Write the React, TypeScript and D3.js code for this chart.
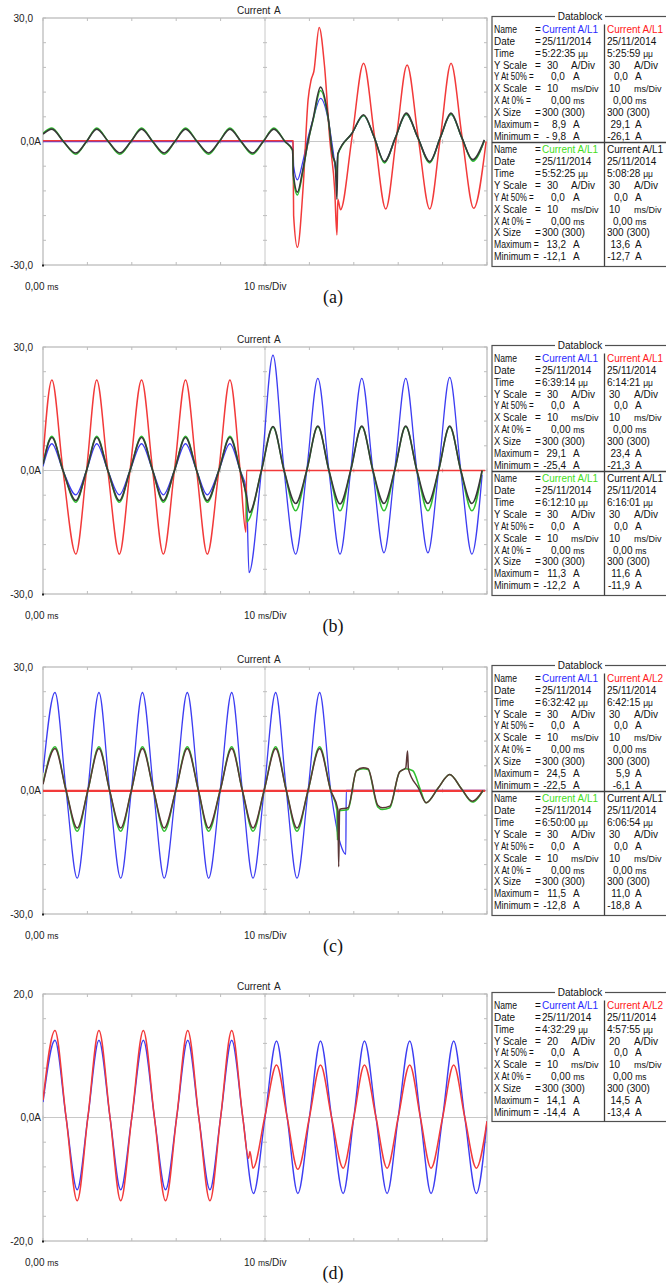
import React from 'react';
import * as d3 from 'd3';

type Pt = [number, number];

// ---------------- data (time in ms, current in A) ----------------
const X_DIVS = [0, 10, 20, 30, 40, 50, 60, 70, 80, 90, 100];
const X_LABELS = ['0,00', '10'];
const TITLE = 'Current';
const CAPTIONS = ['(a)', '(b)', '(c)', '(d)'];
const Y_LABELS_30 = ['30,0', '0,0A', '-30,0'];
const Y_LABELS_20 = ['20,0', '0,0A', '-20,0'];

// Panel (a)
const A_BLUE: Pt[] = [[0,0],[56.3,0],[56.45,-6],[57.3,-9.3],[58.5,-5],[59.7,1],[60.8,5.3],[62.5,10.5],[64.2,5.5],[65.3,-2],[66.1,-7.7],[66.4,-3],[69.6,2],[72.2,6.3],[74.6,1],[76.9,-5.0],[79.4,1],[81.8,6.6],[84.4,1],[87.1,-5.0],[89.5,1],[91.9,6.6],[94.3,1],[96.8,-4.6],[99.4,0.2]];
const A_RED: Pt[] = [[0,0.2],[56.3,0.2],[56.45,-18],[57.3,-25.7],[58.6,-10.9],[59.7,10.1],[60.4,15],[61.0,17],[62.2,27.7],[63.4,18.4],[64.6,0.4],[65.7,-11.8],[66.2,-22.7],[66.4,-14],[67.0,-16.6],[69.6,1],[72.2,19.0],[74.7,1],[77.2,-16.4],[79.6,1],[82.0,18.6],[84.5,1],[87.1,-16.4],[89.5,1],[91.9,19.0],[94.4,1],[97.0,-16.2],[99.8,0]];
const A_GREEN: Pt[] = [[0,2.0],[2.0,3.3],[4.6,0],[7.4,-3.1],[9.8,0],[12.1,3.3],[14.7,0],[17.3,-3.1],[19.8,0],[22.2,3.3],[24.7,0],[27.3,-3.1],[29.7,0],[32.1,3.3],[34.7,0],[37.3,-3.1],[39.7,0],[42.1,3.3],[44.6,0],[47.2,-3.1],[49.6,0],[52.0,3.3],[54.5,0],[56.2,-2.2],[56.4,-9],[57.3,-13.0],[58.5,-7.5],[59.7,0],[60.8,5.0],[62.5,12.4],[64.2,5.8],[65.3,-3.6],[65.9,-6],[66.2,-8.5],[66.4,-3.2],[69.6,2],[72.2,6.3],[74.6,1],[76.9,-5.2],[79.4,1],[81.8,6.6],[84.4,1],[87.1,-5.2],[89.5,1],[91.9,6.6],[94.3,1],[96.8,-4.8],[99.4,0.2]];
const A_DARK: Pt[] = [[0,1.8],[2.0,3.0],[4.6,0],[7.4,-2.8],[9.8,0],[12.1,3.0],[14.7,0],[17.3,-2.8],[19.8,0],[22.2,3.0],[24.7,0],[27.3,-2.8],[29.7,0],[32.1,3.0],[34.7,0],[37.3,-2.8],[39.7,0],[42.1,3.0],[44.6,0],[47.2,-2.8],[49.6,0],[52.0,3.0],[54.5,0],[56.2,-2.0],[56.4,-8],[57.3,-12.3],[58.5,-7],[59.7,0],[60.8,5.3],[62.5,13.2],[64.2,6.1],[65.3,-3.6],[65.8,-5.2],[66.2,-14],[66.4,-3],[69.6,2],[72.2,6.5],[74.6,1],[76.9,-4.9],[79.4,1],[81.8,6.9],[84.4,1],[87.1,-4.9],[89.5,1],[91.9,6.9],[94.3,1],[96.8,-4.4],[99.4,0.4]];

// Panel (b)
const B_BLUE: Pt[] = [[0,1],[2.0,6.5],[4.5,0],[7.4,-5.9],[9.8,0],[12.1,6.5],[14.6,0],[17.2,-5.9],[19.6,0],[22.2,6.5],[24.7,0],[27.1,-5.9],[29.6,0],[32.1,6.5],[34.6,0],[37.0,-5.9],[39.6,0],[42.1,6.5],[44.4,0],[45.8,-4.5],[46.4,-24.8],[49.2,0],[51.8,28.0],[54.3,0],[56.9,-20.3],[59.4,0],[61.9,22.4],[64.4,0],[66.9,-20.3],[69.3,0],[71.8,22.4],[74.3,0],[76.8,-20.0],[79.2,0],[81.7,22.4],[84.2,0],[86.7,-20.0],[89.1,0],[91.6,22.6],[94.1,0],[96.6,-20.3],[98.9,-1]];
const B_RED: Pt[] = [[0,3],[2.0,22],[4.5,0],[7.4,-20.3],[9.8,0],[12.1,22],[14.6,0],[17.2,-20.3],[19.6,0],[22.2,22],[24.7,0],[27.1,-20.3],[29.6,0],[32.1,22],[34.6,0],[37.0,-20.3],[39.6,0],[42.1,22],[44.4,0],[45.7,-15],[45.85,0],[99.6,0]];
const B_GREEN: Pt[] = [[0,1.5],[2.0,8.3],[4.5,0],[7.4,-7.7],[9.8,0],[12.1,8.3],[14.6,0],[17.2,-7.7],[19.6,0],[22.2,8.3],[24.7,0],[27.1,-7.7],[29.6,0],[32.1,8.3],[34.6,0],[37.0,-7.7],[39.6,0],[42.1,8.3],[44.4,0],[45.8,-7],[45.9,-12.5],[46.5,-11.7],[49.2,0],[51.8,10.5],[54.3,0],[56.9,-9.8],[59.4,0],[61.9,10.6],[64.4,0],[66.9,-9.8],[69.3,0],[71.8,10.6],[74.3,0],[76.8,-9.8],[79.2,0],[81.7,10.6],[84.2,0],[86.7,-9.8],[89.1,0],[91.6,10.6],[94.1,0],[96.6,-9.8],[98.9,0]];
const B_DARK: Pt[] = [[0,1.5],[2.0,8.0],[4.5,0],[7.4,-7.3],[9.8,0],[12.1,8.0],[14.6,0],[17.2,-7.3],[19.6,0],[22.2,8.0],[24.7,0],[27.1,-7.3],[29.6,0],[32.1,8.0],[34.6,0],[37.0,-7.3],[39.6,0],[42.1,8.0],[44.4,0],[45.8,-6.0],[46.5,-10.2],[49.2,0],[51.8,10.7],[54.3,0],[56.9,-8.0],[59.4,0],[61.9,10.8],[64.4,0],[66.9,-8.1],[69.3,0],[71.8,10.8],[74.3,0],[76.8,-8.0],[79.2,0],[81.7,10.8],[84.2,0],[86.7,-8.0],[89.1,0],[91.6,10.8],[94.1,0],[96.6,-8.0],[98.9,0]];

// Panel (c)
const C_BLUE: Pt[] = [[0,4.3],[2.7,23.8],[5.2,0],[7.7,-21.3],[10.1,0],[12.6,23.8],[15.0,0],[17.5,-21.3],[19.9,0],[22.4,23.8],[24.9,0],[27.3,-21.3],[29.9,0],[32.5,23.8],[35.0,0],[37.3,-21.3],[39.9,0],[42.5,23.8],[44.9,0],[47.3,-21.3],[49.8,0],[52.4,23.8],[54.8,0],[57.2,-21.3],[59.7,0],[62.3,23.8],[64.8,0],[67.0,-13],[68.2,-15.5],[68.3,0],[99.6,0]];
const C_RED: Pt[] = [[0,-0.1],[99.6,-0.1]];
const C_GREEN: Pt[] = [[0,1.7],[2.7,10.6],[5.2,0],[7.7,-9.9],[10.1,0],[12.6,10.6],[15.0,0],[17.5,-9.9],[19.9,0],[22.4,10.6],[24.9,0],[27.3,-9.9],[29.9,0],[32.5,10.6],[35.0,0],[37.3,-9.9],[39.9,0],[42.5,10.6],[44.9,0],[47.3,-9.9],[49.8,0],[52.4,10.6],[54.8,0],[57.2,-9.9],[59.7,0],[62.3,10.6],[64.8,0],[66.2,-4.8],[66.3,-12],[66.6,-5],[68.7,-4.6],[70.6,4.8],[72.1,5.3],[73.2,5.1],[75.4,-4.0],[76.4,-4.6],[78.1,-4.2],[80.3,4.5],[81.7,5.3],[83.3,4.8],[84.9,0.5],[86.3,-3.0],[89.0,0.6],[91.6,3.9],[94.2,0.5],[96.7,-2.8],[99.1,0]];
const C_DARK: Pt[] = [[0,1.5],[2.7,10.2],[5.2,0],[7.7,-9.1],[10.1,0],[12.6,10.2],[15.0,0],[17.5,-9.1],[19.9,0],[22.4,10.2],[24.9,0],[27.3,-9.1],[29.9,0],[32.5,10.2],[35.0,0],[37.3,-9.1],[39.9,0],[42.5,10.2],[44.9,0],[47.3,-9.1],[49.8,0],[52.4,10.2],[54.8,0],[57.2,-9.1],[59.7,0],[62.3,10.2],[64.8,0],[66.4,-4.6],[66.6,-18.5],[66.8,-4.6],[68.7,-4.2],[70.6,4.8],[72.1,5.5],[73.2,5.3],[75.4,-3.6],[76.4,-4.2],[78.1,-3.8],[80.3,4.5],[81.7,5.5],[82.1,9.6],[82.3,5.2],[84.6,0.5],[86.3,-3.0],[89.0,0.6],[91.6,3.9],[94.2,0.5],[96.7,-2.6],[99.1,0]];

// Panel (d)
const D_BLUE: Pt[] = [[0,2.5],[2.7,12.5],[5.2,0],[7.7,-11.7],[10.1,0],[12.6,12.5],[15.1,0],[17.5,-11.7],[20.0,0],[22.6,12.5],[25.1,0],[27.6,-11.7],[30.1,0],[32.6,12.5],[35.1,0],[37.6,-11.7],[40.0,0],[42.5,12.5],[45.0,0],[47.4,-12.3],[50.0,0],[52.6,12.4],[55.0,0],[57.4,-12.3],[60.0,0],[62.5,12.4],[65.0,0],[67.6,-12.3],[70.0,0],[72.4,12.4],[75.0,0],[77.5,-12.3],[80.0,0],[82.6,12.4],[85.0,0],[87.4,-12.3],[90.0,0],[92.5,12.4],[95.0,0],[97.6,-12.3],[100,-0.6]];
const D_RED: Pt[] = [[0,2.8],[2.7,14.1],[5.2,0],[7.7,-13.5],[10.1,0],[12.6,14.1],[15.1,0],[17.5,-13.5],[20.0,0],[22.6,14.1],[25.1,0],[27.6,-13.5],[30.1,0],[32.6,14.1],[35.1,0],[37.6,-13.5],[40.0,0],[42.5,14.1],[45.0,0],[46.3,-6.6],[46.6,-5.5],[47.3,-8.2],[50.0,0.3],[52.6,8.5],[55.0,0],[57.4,-8.4],[60.0,0],[62.5,8.5],[65.0,0],[67.6,-8.2],[70.0,0],[72.4,8.5],[75.0,0],[77.5,-8.2],[80.0,0],[82.6,8.5],[85.0,0],[87.4,-8.2],[90.0,0],[92.5,8.5],[95.0,0],[97.6,-8.2],[100,-0.6]];

// Datablock columns
type Col = { name: string; color: string; time: string; yScale: string; max: string; min: string };
const DATE = '25/11/2014';
const A_COLS: Col[] = [
  { name: 'Current A/L1', color: '#2a2aff', time: '5:22:35', yScale: '30', max: '8,9', min: '- 9,8' },
  { name: 'Current A/L1', color: '#ff2020', time: '5:25:59', yScale: '30', max: '29,1', min: '-26,1' },
  { name: 'Current A/L1', color: '#44dd22', time: '5:52:25', yScale: '30', max: '13,2', min: '-12,1' },
  { name: 'Current A/L1', color: '#111', time: '5:08:28', yScale: '30', max: '13,6', min: '-12,7' },
];
const B_COLS: Col[] = [
  { name: 'Current A/L1', color: '#2a2aff', time: '6:39:14', yScale: '30', max: '29,1', min: '-25,4' },
  { name: 'Current A/L1', color: '#ff2020', time: '6:14:21', yScale: '30', max: '23,4', min: '-21,3' },
  { name: 'Current A/L1', color: '#44dd22', time: '6:12:10', yScale: '30', max: '11,3', min: '-12,2' },
  { name: 'Current A/L1', color: '#111', time: '6:16:01', yScale: '30', max: '11,6', min: '-11,9' },
];
const C_COLS: Col[] = [
  { name: 'Current A/L1', color: '#2a2aff', time: '6:32:42', yScale: '30', max: '24,5', min: '-22,5' },
  { name: 'Current A/L2', color: '#ff2020', time: '6:42:15', yScale: '30', max: '5,9', min: '-6,1' },
  { name: 'Current A/L1', color: '#44dd22', time: '6:50:00', yScale: '30', max: '11,5', min: '-12,8' },
  { name: 'Current A/L1', color: '#111', time: '6:06:54', yScale: '30', max: '11,0', min: '-18,8' },
];
const D_COLS: Col[] = [
  { name: 'Current A/L1', color: '#2a2aff', time: '4:32:29', yScale: '20', max: '14,1', min: '-14,4' },
  { name: 'Current A/L2', color: '#ff2020', time: '4:57:55', yScale: '20', max: '14,5', min: '-13,4' },
];
const ROW_LABELS = ['Name', 'Date', 'Time', 'Y Scale', 'Y At 50%', 'X Scale', 'X At 0%', 'X Size', 'Maximum', 'Minimum'];

// ---------------- styles / layout ----------------
const BLUE = '#3d3df2';
const RED = '#f23a3a';
const GREEN = '#30c030';
const DARK = '#383838';
const SANS = 'Liberation Sans, Arial, sans-serif';
const PL = 43, PR = 487, PH = 247;

type Series = { data: Pt[]; color: string; width: number };

const PANELS = [
  { top: 18, yMax: 30, labels: Y_LABELS_30, caption: CAPTIONS[0], cols: A_COLS,
    series: [ { data: A_BLUE, color: BLUE, width: 1.3 }, { data: A_RED, color: RED, width: 1.5 }, { data: A_GREEN, color: GREEN, width: 1.5 }, { data: A_DARK, color: DARK, width: 1.6 } ] },
  { top: 347, yMax: 30, labels: Y_LABELS_30, caption: CAPTIONS[1], cols: B_COLS,
    series: [ { data: B_BLUE, color: BLUE, width: 1.3 }, { data: B_RED, color: RED, width: 1.5 }, { data: B_GREEN, color: GREEN, width: 1.5 }, { data: B_DARK, color: DARK, width: 1.6 } ] },
  { top: 667, yMax: 30, labels: Y_LABELS_30, caption: CAPTIONS[2], cols: C_COLS,
    series: [ { data: C_BLUE, color: BLUE, width: 1.3 }, { data: C_RED, color: RED, width: 2.4 }, { data: C_GREEN, color: GREEN, width: 1.5 }, { data: C_DARK, color: '#5a3636', width: 1.5 } ] },
  { top: 994, yMax: 20, labels: Y_LABELS_20, caption: CAPTIONS[3], cols: D_COLS,
    series: [ { data: D_BLUE, color: BLUE, width: 1.4 }, { data: D_RED, color: RED, width: 1.5 } ] },
];

// label widths / '=' positions in the datablock; rows flagged "merged" draw label and '=' as one text
const LABEL_W = [23, 21, 20, 33, 31, 33, 27, 27, 37, 36];
const EQ_X = [535, 535, 535, 535, 528, 535, 525, 535, 533, 533];
const MERGED = [false, false, false, false, true, false, true, false, true, true];

function Datablock({ top, cols }: { top: number; cols: Col[] }) {
  const left = 492, right = 668, divX = 604.5;
  const nBlocks = cols.length / 2;
  const blockH = 126;
  const bottom = nBlocks === 2 ? top + 250 : top + 129;
  const els: React.ReactNode[] = [];
  const pos = [
    { base: 542, num: 547, unit: 571, y50: 551, y50u: 573, x0: 551, mx: 566, mu: 573 },
    { base: 607, num: 609, unit: 634, y50: 614, y50u: 635, x0: 613, mx: 630, mu: 635 },
  ];
  for (let b = 0; b < nBlocks; b++) {
    const y0 = top + 12.7 + b * 120.3;
    const Y = (i: number) => y0 + i * 11.9 + 3.6;
    ROW_LABELS.forEach((lab, i) => {
      if (MERGED[i]) {
        els.push(<text key={`l${b}${i}`} x={494} y={Y(i)} textLength={EQ_X[i] + 5.8 - 494} lengthAdjust="spacingAndGlyphs">{`${lab} =`}</text>);
      } else {
        els.push(<text key={`l${b}${i}`} x={494} y={Y(i)} textLength={LABEL_W[i]} lengthAdjust="spacingAndGlyphs">{lab}</text>);
        els.push(<text key={`e${b}${i}`} x={EQ_X[i]} y={Y(i)}>=</text>);
      }
    });
    for (let c = 0; c < 2; c++) {
      const col = cols[b * 2 + c];
      const p = pos[c];
      const k = `${b}${c}`;
      els.push(<text key={`n${k}`} x={p.base} y={Y(0)} fill={col.color}>{col.name}</text>);
      els.push(<text key={`d${k}`} x={p.base} y={Y(1)}>{DATE}</text>);
      els.push(<text key={`t${k}`} x={p.base} y={Y(2)}>{col.time} <tspan fontSize={8.5}>μμ</tspan></text>);
      els.push(<text key={`ys${k}`} x={p.num} y={Y(3)}>{col.yScale}</text>);
      els.push(<text key={`ysu${k}`} x={p.unit} y={Y(3)}>A/Div</text>);
      els.push(<text key={`y5${k}`} x={p.y50} y={Y(4)}>0,0</text>);
      els.push(<text key={`y5u${k}`} x={p.y50u} y={Y(4)}>A</text>);
      els.push(<text key={`xs${k}`} x={p.num} y={Y(5)}>10</text>);
      els.push(<text key={`xsu${k}`} x={p.unit} y={Y(5)}><tspan fontSize={9}>ms/Div</tspan></text>);
      els.push(<text key={`x0${k}`} x={p.x0} y={Y(6)}>0,00 <tspan fontSize={8.5}>ms</tspan></text>);
      els.push(<text key={`xz${k}`} x={p.base} y={Y(7)}>300 (300)</text>);
      els.push(<text key={`mx${k}`} x={p.mx} y={Y(8)} textAnchor="end">{col.max}</text>);
      els.push(<text key={`mxu${k}`} x={p.mu} y={Y(8)}>A</text>);
      els.push(<text key={`mn${k}`} x={p.mx} y={Y(9)} textAnchor="end">{col.min}</text>);
      els.push(<text key={`mnu${k}`} x={p.mu} y={Y(9)}>A</text>);
    }
  }
  return (
    <g fontFamily={SANS} fontSize={10} fill="#111">
      <rect x={left} y={top} width={right - left} height={bottom - top} fill="#fff" stroke="#505050" strokeWidth={1.2} />
      <line x1={divX} x2={divX} y1={top + 8} y2={bottom} stroke="#404040" strokeWidth={1.3} />
      {nBlocks === 2 && <line x1={left} x2={right} y1={top + blockH} y2={top + blockH} stroke="#404040" strokeWidth={1.3} />}
      <rect x={555} y={top - 6} width={50} height={12} fill="#fff" />
      <text x={580} y={top + 3.5} textAnchor="middle">Datablock</text>
      {els}
    </g>
  );
}

function Panel({ idx }: { idx: number }) {
  const P = PANELS[idx];
  const top = P.top, bot = top + PH;
  const x = d3.scaleLinear().domain([0, 100]).range([PL, PR]);
  const y = d3.scaleLinear().domain([-P.yMax, P.yMax]).range([bot, top]);
  const line = d3.line<Pt>().x(d => x(d[0])).y(d => y(d[1])).curve(d3.curveMonotoneX);
  const yDivs = d3.range(0, 11).map(i => -P.yMax + (i * P.yMax) / 5);
  const xc = x(50), y0 = y(0);
  const grid = '#bdbdbd';
  const clipId = `clip${idx}`;
  return (
    <g>
      <defs>
        <clipPath id={clipId}><rect x={PL} y={top} width={PR - PL} height={PH} /></clipPath>
      </defs>
      <rect x={PL} y={top} width={PR - PL} height={PH} fill="#fff" stroke="#a8a8a8" strokeWidth={1} />
      <line x1={xc} x2={xc} y1={top} y2={bot} stroke="#c8c8c8" />
      <line x1={PL} x2={PR} y1={y0} y2={y0} stroke="#c8c8c8" />
      {X_DIVS.map(v => (
        <g key={`xt${v}`} stroke={grid}>
          <line x1={x(v)} x2={x(v)} y1={top} y2={top + 3} />
          <line x1={x(v)} x2={x(v)} y1={bot - 3} y2={bot} />
          <line x1={x(v)} x2={x(v)} y1={y0 - 2} y2={y0 + 2} />
        </g>
      ))}
      {yDivs.map(v => (
        <g key={`yt${v}`} stroke={grid}>
          <line x1={PL} x2={PL + 3} y1={y(v)} y2={y(v)} />
          <line x1={PR - 3} x2={PR} y1={y(v)} y2={y(v)} />
          <line x1={xc - 2} x2={xc + 2} y1={y(v)} y2={y(v)} />
        </g>
      ))}
      <g clipPath={`url(#${clipId})`} fill="none" strokeLinejoin="round">
        {P.series.map((s: Series, i: number) => (
          <path key={i} d={line(s.data) || ''} stroke={s.color} strokeWidth={s.width} />
        ))}
      </g>
      <rect x={PL - 1} y={bot - 0.5} width={2} height={2} fill="#222" />
      <g fontFamily={SANS} fontSize={10} fill="#222">
        <text x={33} y={y(P.yMax) + 3.5} textAnchor="end">{P.labels[0]}</text>
        <text x={41} y={y0 + 3.5} textAnchor="end">{P.labels[1]}</text>
        <text x={33} y={y(-P.yMax) + 3.5} textAnchor="end">{P.labels[2]}</text>
        <text x={237} y={top - 4.5}>{TITLE}</text>
        <text x={274} y={top - 4.5}>A</text>
        <text x={25} y={top + 271.5}>{X_LABELS[0]} <tspan fontSize={8.5}>ms</tspan></text>
        <text x={244} y={top + 271.5}>{X_LABELS[1]} <tspan fontSize={8.5}>ms</tspan>/Div</text>
      </g>
      <text x={333} y={top + 284.5} textAnchor="middle" fontFamily="Liberation Serif, Times New Roman, serif" fontSize={18} fill="#111">{P.caption}</text>
      <Datablock top={top - 1.5} cols={P.cols} />
    </g>
  );
}

export default function App() {
  return (
    <svg width={666} height={1288} style={{ position: 'absolute', left: 0, top: 0, background: '#fff' }}>
      <rect x={0} y={0} width={666} height={1288} fill="#fff" />
      {PANELS.map((_, i) => <Panel key={i} idx={i} />)}
    </svg>
  );
}
